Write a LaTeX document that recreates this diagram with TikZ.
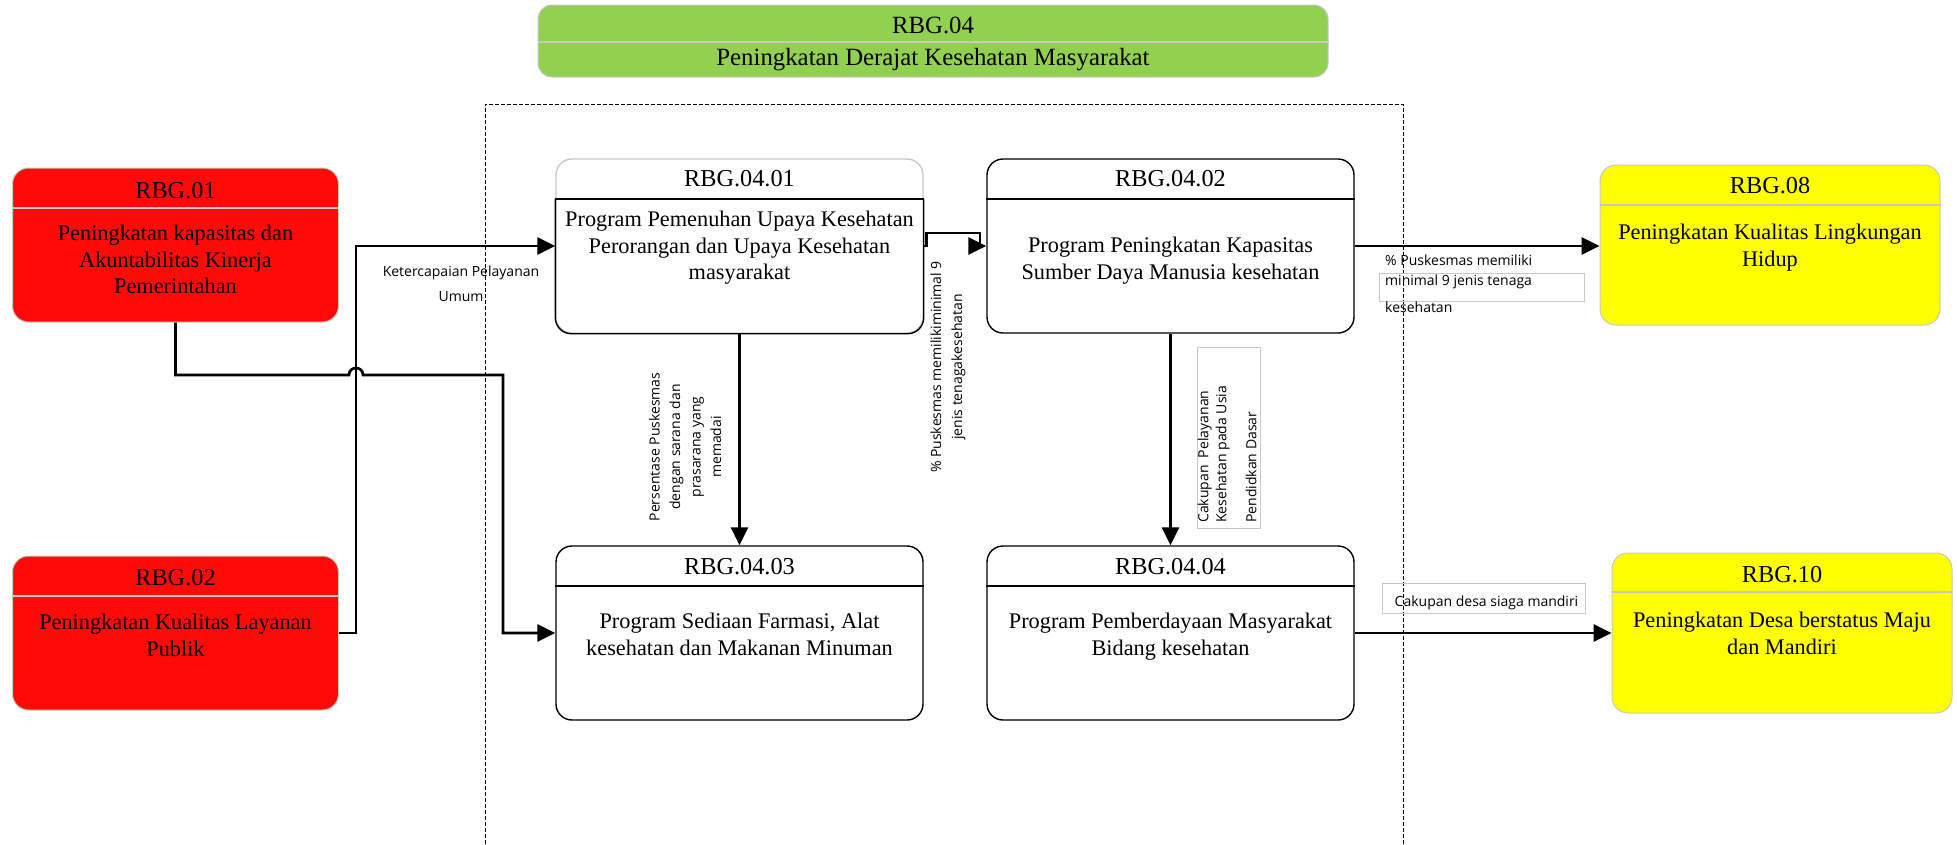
\documentclass[tikz,border=0pt]{standalone}
\usepackage{fontspec}
\setmainfont{Liberation Serif}
\newfontfamily\lblfamily{Open Sans}
\usetikzlibrary{arrows.meta}

\definecolor{rbgred}{HTML}{FF0909}
\definecolor{rbgyellow}{HTML}{FFFF00}
\definecolor{rbggreen}{HTML}{92D050}
\definecolor{rimgray}{HTML}{C8C8C8}

\tikzset{
  goalbox/.style={rectangle, draw=rimgray, line width=1pt, rounded corners=16pt, inner sep=0pt},
  progbox/.style={rectangle, draw=black, line width=1.4pt, fill=white, rounded corners=16pt,
                  inner sep=0pt, minimum width=367pt, minimum height=174pt},
  lightrule/.style={draw=rimgray, line width=1.3pt},
  darkrule/.style={draw=black, line width=1.4pt},
  ttl/.style={anchor=base, inner sep=0pt, font=\fontsize{24.3}{29}\selectfont},
  bdy/.style={anchor=north, inner sep=0pt, align=center, font=\fontsize{22.3}{26.7}\selectfont},
  lbl/.style={inner sep=0pt, font=\lblfamily\fontsize{14}{21}\selectfont},
  conn/.style={line width=2.7pt, -{Triangle[length=18pt,width=17pt]}},
  region/.style={line width=1pt, dash pattern=on 4pt off 2pt},
  tagbox/.style={draw=rimgray, line width=1pt}
}

\begin{document}
\begin{tikzpicture}[x=1pt,y=-1pt]
\useasboundingbox (0,0) rectangle (1957,844);

% dashed region around the programme boxes
\draw[region] (485,844) -- (485,104) -- (1403,104) -- (1403,844);

% ---- goal RBG.04 (green header) ----
\node[goalbox, fill=rbggreen, rounded corners=14pt, minimum width=790pt, minimum height=72pt] (g04) at (933,41) {};
\draw[lightrule] (g04.west |- 0,42) -- (g04.east |- 0,42);
\node[ttl, font=\fontsize{24.8}{29}\selectfont] (g04t) at (933,33) {RBG.04};
\node[ttl, font=\fontsize{24.8}{29}\selectfont] (g04b) at (933,65) {Peningkatan Derajat Kesehatan Masyarakat};

% ---- goal RBG.01 ----
\node[goalbox, fill=rbgred, minimum width=326pt, minimum height=154pt] (g01) at (175.5,245) {};
\draw[lightrule] (g01.west |- 0,208) -- (g01.east |- 0,208);
\node[ttl] (g01t) at (175.5,198) {RBG.01};
\node[bdy] (g01b) at (175.5,224.7) {Peningkatan kapasitas dan\\Akuntabilitas Kinerja\\Pemerintahan};

% ---- goal RBG.02 ----
\node[goalbox, fill=rbgred, minimum width=326pt, minimum height=154pt] (g02) at (175.5,633) {};
\draw[lightrule] (g02.west |- 0,596) -- (g02.east |- 0,596);
\node[ttl] (g02t) at (175.5,585) {RBG.02};
\node[bdy] (g02b) at (175.5,613.7) {Peningkatan Kualitas Layanan\\Publik};

% ---- programme RBG.04.01 (light header outline) ----
\node[progbox, draw=rimgray] (p1) at (739.5,246) {};
\draw[darkrule, rounded corners=16pt] (p1.west |- 0,199) -- (p1.south west) -- (p1.south east) -- (p1.east |- 0,199);
\draw[darkrule] (p1.west |- 0,199) -- (p1.east |- 0,199);
\node[ttl] (p1t) at (739.5,186) {RBG.04.01};
\node[bdy] (p1b) at (739.5,210.7) {Program Pemenuhan Upaya Kesehatan\\Perorangan dan Upaya Kesehatan\\masyarakat};

% ---- programme RBG.04.02 ----
\node[progbox] (p2) at (1170.5,246) {};
\draw[darkrule] (p2.west |- 0,199) -- (p2.east |- 0,199);
\node[ttl] (p2t) at (1170.5,186) {RBG.04.02};
\node[bdy] (p2b) at (1170.5,237.2) {Program Peningkatan Kapasitas\\Sumber Daya Manusia kesehatan};

% ---- programme RBG.04.03 ----
\node[progbox] (p3) at (739.5,633) {};
\draw[darkrule] (p3.west |- 0,586) -- (p3.east |- 0,586);
\node[ttl] (p3t) at (739.5,574) {RBG.04.03};
\node[bdy] (p3b) at (739.5,612.7) {Program Sediaan Farmasi, Alat\\kesehatan dan Makanan Minuman};

% ---- programme RBG.04.04 ----
\node[progbox] (p4) at (1170.5,633) {};
\draw[darkrule] (p4.west |- 0,586) -- (p4.east |- 0,586);
\node[ttl] (p4t) at (1170.5,574) {RBG.04.04};
\node[bdy] (p4b) at (1170.5,612.7) {Program Pemberdayaan Masyarakat\\Bidang kesehatan};

% ---- goal RBG.08 ----
\node[goalbox, fill=rbgyellow, minimum width=340pt, minimum height=160pt] (g08) at (1770,245) {};
\draw[lightrule] (g08.west |- 0,205) -- (g08.east |- 0,205);
\node[ttl] (g08t) at (1770,193.5) {RBG.08};
\node[bdy] (g08b) at (1770,223.7) {Peningkatan Kualitas Lingkungan\\Hidup};

% ---- goal RBG.10 ----
\node[goalbox, fill=rbgyellow, minimum width=340pt, minimum height=160pt] (g10) at (1782,633) {};
\draw[lightrule] (g10.west |- 0,592) -- (g10.east |- 0,592);
\node[ttl] (g10t) at (1782,582.5) {RBG.10};
\node[bdy] (g10b) at (1782,611.7) {Peningkatan Desa berstatus Maju\\dan Mandiri};

% ---- connectors ----
\draw[conn] (g01.south) |- (349,375) .. controls (349,365.7) and (363,365.7) .. (363,375)
            -- (503,375) |- (p3.west);
\draw[conn] (g02.east) -- (356,633) |- (p1.west);
\draw[conn] (p1.east) -- ++(3,0) |- (980,233) -- (980,246) -- (p2.west);
\draw[conn] (p1.south) -- (p3.north);
\draw[conn] (p2.south) -- (p4.north);
\draw[conn] (p2.east) -- (p2.east -| g08.west);
\draw[conn] (p4.east) -- (p4.east -| g10.west);

% ---- indicator labels ----
\node[lbl, anchor=north, align=center, font=\lblfamily\fontsize{14}{25}\selectfont] (l1) at (461,265.4) {Ketercapaian Pelayanan\\Umum};
\node[lbl, rotate=90, align=center, font=\lblfamily\fontsize{14}{20.5}\selectfont] (l2) at (685,447)
  {Persentase Puskesmas\\dengan sarana dan\\prasarana yang\\memadai};
\node[lbl, rotate=90, align=center] (l3) at (948,367)
  {\% Puskesmas memilikiminimal 9\\jenis tenagakesehatan};
\draw[tagbox] (1197,347) rectangle (1260,528);
\node[lbl, rotate=90, anchor=north west, align=left, font=\lblfamily\fontsize{14}{18}\selectfont] (l4) at (1197.5,523)
  {Cakupan\ \ Pelayanan\\Kesehatan pada Usia\\[12pt]Pendidkan Dasar};
\draw[tagbox] (1379,273) rectangle (1584,301);
\node[lbl, anchor=north west, align=left, font=\lblfamily\fontsize{14}{20}\selectfont] (l5) at (1385,254.4)
  {\% Puskesmas memiliki\\minimal 9 jenis tenaga\\[7pt]kesehatan};
\draw[tagbox] (1382,583) rectangle (1585,613);
\node[lbl, anchor=base west] (l6) at (1394.5,606) {Cakupan desa siaga mandiri};
\end{tikzpicture}
\end{document}
